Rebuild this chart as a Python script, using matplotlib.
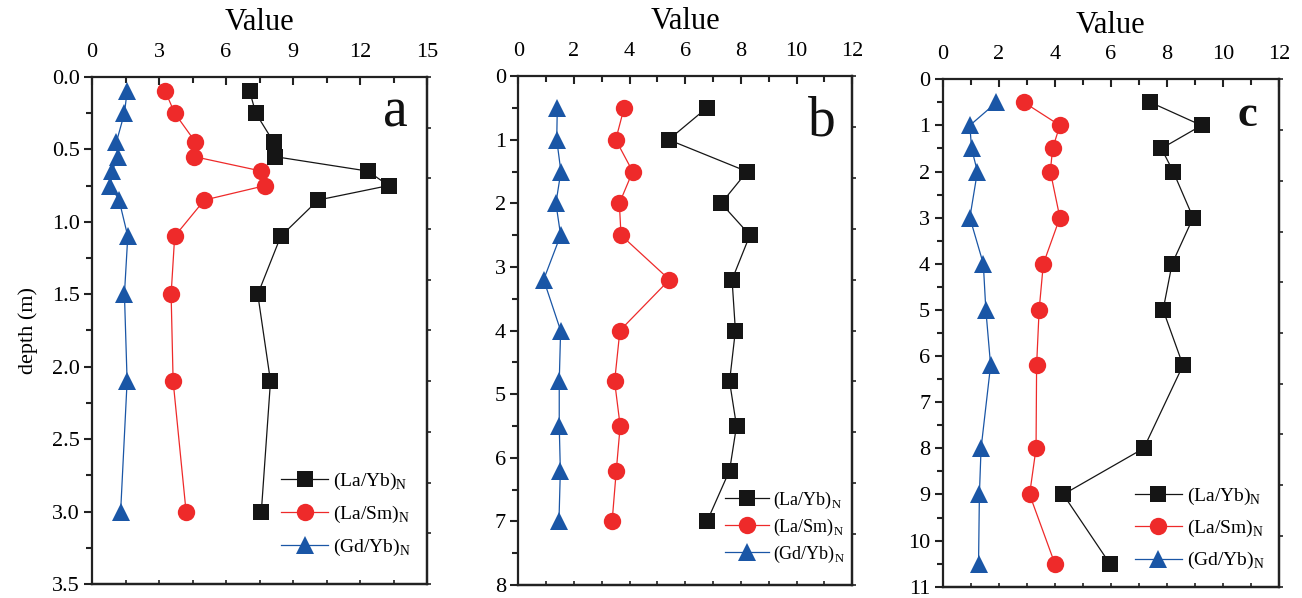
import numpy as np
import matplotlib
matplotlib.use("Agg")
import matplotlib.pyplot as plt
from matplotlib.ticker import MultipleLocator, NullFormatter

plt.rcParams['font.family'] = ['Liberation Serif', 'DejaVu Serif']
plt.rcParams['mathtext.fontset'] = 'custom'
plt.rcParams['mathtext.rm'] = 'Liberation Serif'

# ---- data ----
a_depth = [0.1, 0.25, 0.45, 0.55, 0.65, 0.75, 0.85, 1.1, 1.5, 2.1, 3.0]
a_layb = [7.06, 7.33, 8.13, 8.18, 12.34, 13.28, 10.12, 8.45, 7.42, 7.99, 7.58]
a_lasm = [3.28, 3.70, 4.63, 4.57, 7.58, 7.76, 5.03, 3.70, 3.54, 3.63, 4.21]
a_gdyb = [1.57, 1.45, 1.09, 1.15, 0.90, 0.82, 1.21, 1.60, 1.45, 1.57, 1.28]

b_depth = [0.5, 1.0, 1.5, 2.0, 2.5, 3.2, 4.0, 4.8, 5.5, 6.2, 7.0]
b_layb = [6.77, 5.40, 8.22, 7.29, 8.32, 7.68, 7.80, 7.59, 7.84, 7.59, 6.78]
b_lasm = [3.80, 3.50, 4.11, 3.63, 3.69, 5.43, 3.65, 3.46, 3.66, 3.52, 3.37]
b_gdyb = [1.40, 1.38, 1.53, 1.35, 1.52, 0.91, 1.52, 1.47, 1.47, 1.51, 1.46]

c_depth = [0.5, 1.0, 1.5, 2.0, 3.0, 4.0, 5.0, 6.2, 8.0, 9.0, 10.5]
c_layb = [7.41, 9.23, 7.80, 8.22, 8.93, 8.18, 7.86, 8.57, 7.17, 4.30, 5.96]
c_lasm = [2.90, 4.18, 3.92, 3.84, 4.18, 3.59, 3.44, 3.35, 3.33, 3.10, 4.00]
c_gdyb = [1.92, 0.97, 1.03, 1.24, 0.97, 1.45, 1.54, 1.71, 1.37, 1.31, 1.28]

series_labels = [r'(La/Yb)$_\mathregular{N}$', r'(La/Sm)$_\mathregular{N}$',
                 r'(Gd/Yb)$_\mathregular{N}$']
panel_letters = ['a', 'b', 'c']

colors = ['#151515', '#EE2A2A', '#1A56A6']
markers = ['s', 'o', '^']
msizes = [12, 12.5, 13]

panels = [
    dict(depth=a_depth, vals=[a_layb, a_lasm, a_gdyb], xlim=(0, 15), xmaj=3, xmin=1.5,
         ylim=(3.5, 0), ymaj=0.5, ymin=0.25, yfmt='%.1f',
         pos=[0.0707, 0.0234, 0.2573, 0.848], letter_xy=(0.905, 0.903), letter_fs=40,
         letter_w='normal', leg=(0.565, 0.052), leg_fs=14, leg_sp=0.6, bottom_step=1.5),
    dict(depth=b_depth, vals=[b_layb, b_lasm, b_gdyb], xlim=(0, 12), xmaj=2, xmin=1,
         ylim=(8, 0), ymaj=1, ymin=0.5, yfmt='%d',
         pos=[0.3981, 0.0217, 0.2565, 0.851], letter_xy=(0.91, 0.884), letter_fs=40,
         letter_w='normal', leg=(0.62, 0.04), leg_fs=13, leg_sp=0.32, bottom_step=1),
    dict(depth=c_depth, vals=[c_layb, c_lasm, c_gdyb], xlim=(0, 12), xmaj=2, xmin=1,
         ylim=(11, 0), ymaj=1, ymin=0.5, yfmt='%d',
         pos=[0.7240, 0.0189, 0.2585, 0.8485], letter_xy=(0.905, 0.907), letter_fs=32,
         letter_w='bold', leg=(0.572, 0.03), leg_fs=14, leg_sp=0.58, bottom_step=1),
]

fig = plt.figure(figsize=(13.02, 5.98), dpi=100)

for i, p in enumerate(panels):
    ax = fig.add_axes(p['pos'])
    for vals, c, m, ms, lab in zip(p['vals'], colors, markers, msizes, series_labels):
        ax.plot(vals, p['depth'], color=c, marker=m, markersize=ms, linewidth=0.9,
                markeredgewidth=0, label=lab)
    ax.set_xlim(*p['xlim'])
    ax.set_ylim(*p['ylim'])
    for s in ax.spines.values():
        s.set_linewidth(1.6)
        s.set_color('#222222')

    ax.xaxis.set_major_locator(MultipleLocator(p['xmaj']))
    ax.xaxis.set_minor_locator(MultipleLocator(p['xmin']))
    ax.yaxis.set_major_locator(MultipleLocator(p['ymaj']))
    ax.yaxis.set_minor_locator(MultipleLocator(p['ymin']))
    ax.yaxis.set_major_formatter(plt.FormatStrFormatter(p['yfmt']))

    ax.tick_params(axis='x', which='both', top=True, bottom=False, labeltop=True,
                   labelbottom=False, direction='in', width=1.5, labelsize=16, pad=11,
                   color='#222222')
    ax.tick_params(axis='x', which='major', length=6)
    ax.tick_params(axis='x', which='minor', length=4)
    ax.tick_params(axis='y', which='both', left=True, right=False, direction='out',
                   width=1.5, labelsize=16, pad=3, color='#222222')
    ax.tick_params(axis='y', which='major', length=6)
    ax.tick_params(axis='y', which='minor', length=4)

    ax.xaxis.set_label_position('top')
    ax.set_xlabel('Value', fontsize=22, labelpad=9)
    if i == 0:
        ax.set_ylabel('depth (m)', fontsize=16, labelpad=10)

    # short inward ticks along the bottom
    secx = ax.secondary_xaxis('bottom')
    secx.set_xticks(np.arange(p['xlim'][0], p['xlim'][1] + 0.01, p['bottom_step']))
    secx.xaxis.set_major_formatter(NullFormatter())
    secx.tick_params(direction='in', length=3, width=1.2, color='#222222')
    secx.spines['bottom'].set_linewidth(1.6)

    # short outward ticks along the right edge
    secy = ax.secondary_yaxis('right', functions=(lambda d, lo=p['ylim'][0]: d / lo * 10,
                                                  lambda t, lo=p['ylim'][0]: t * lo / 10))
    secy.set_yticks(np.arange(0, 11, 1))
    secy.yaxis.set_major_formatter(NullFormatter())
    secy.tick_params(direction='out', length=3, width=1.2, color='#222222')
    secy.spines['right'].set_linewidth(1.6)

    ax.text(p['letter_xy'][0], p['letter_xy'][1], panel_letters[i], transform=ax.transAxes,
            ha='center', va='baseline', fontsize=p['letter_fs'], fontweight=p['letter_w'],
            color='#111111')

    ax.legend(loc='lower left', bbox_to_anchor=p['leg'], frameon=False, borderpad=0,
              borderaxespad=0, handlelength=2.4, handletextpad=0.25,
              labelspacing=p['leg_sp'], fontsize=p['leg_fs'])

fig.savefig('out.png', dpi=100)
